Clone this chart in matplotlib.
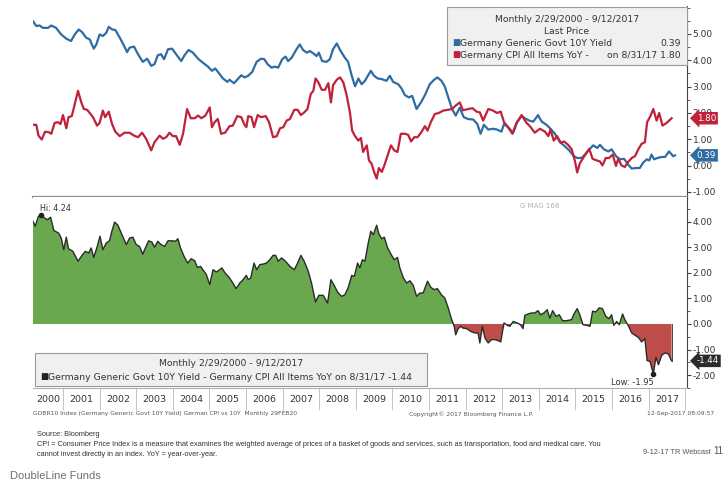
import numpy as np
import matplotlib
matplotlib.use("Agg")
from matplotlib import pyplot as plt
from matplotlib import transforms
from matplotlib.patches import Rectangle

# Germany Generic Govt 10Y Yield (decimal year, %)
yld_t = [2000.18, 2000.27, 2000.36, 2000.45, 2000.59, 2000.68, 2000.81, 2000.95,
         2001.09, 2001.22, 2001.32, 2001.43, 2001.52, 2001.63, 2001.73, 2001.84, 2001.91,
         2002.00, 2002.09, 2002.18, 2002.25, 2002.34, 2002.43, 2002.55, 2002.66, 2002.75, 2002.82, 2002.94,
         2003.05, 2003.18, 2003.30, 2003.41, 2003.50, 2003.59, 2003.68, 2003.76, 2003.87, 2003.98,
         2004.09, 2004.23, 2004.32, 2004.43, 2004.55, 2004.69, 2004.82, 2004.96,
         2005.07, 2005.16, 2005.28, 2005.37, 2005.49, 2005.55, 2005.67, 2005.76, 2005.87, 2005.96,
         2006.06, 2006.17, 2006.29, 2006.41, 2006.50, 2006.59, 2006.70, 2006.79, 2006.88, 2006.99,
         2007.08, 2007.15, 2007.25, 2007.38, 2007.47, 2007.56, 2007.66, 2007.75, 2007.84, 2007.93, 2007.99,
         2008.08, 2008.20, 2008.29, 2008.38, 2008.48, 2008.57, 2008.70, 2008.79, 2008.89, 2008.98,
         2009.07, 2009.16, 2009.25, 2009.41, 2009.50, 2009.60, 2009.72, 2009.84, 2009.93,
         2010.02, 2010.16, 2010.25, 2010.34, 2010.45, 2010.54, 2010.66, 2010.78, 2010.89,
         2011.02, 2011.14, 2011.23, 2011.34, 2011.43, 2011.54, 2011.63, 2011.73, 2011.84, 2011.95,
         2012.07, 2012.21, 2012.32, 2012.41, 2012.50, 2012.62, 2012.75, 2012.86, 2012.98,
         2013.05, 2013.16, 2013.30, 2013.41, 2013.53, 2013.62, 2013.74, 2013.85, 2013.98,
         2014.08, 2014.21, 2014.32, 2014.44, 2014.58, 2014.71, 2014.83, 2014.96,
         2015.05, 2015.17, 2015.26, 2015.38, 2015.49, 2015.60, 2015.67, 2015.78, 2015.90, 2015.99,
         2016.11, 2016.22, 2016.33, 2016.44, 2016.54, 2016.65, 2016.76, 2016.85, 2016.95,
         2017.02, 2017.08, 2017.15, 2017.24, 2017.36, 2017.45, 2017.56, 2017.67, 2017.72]
yld_v = [5.48, 5.30, 5.32, 5.23, 5.23, 5.32, 5.23, 4.98,
         4.82, 4.73, 4.98, 5.17, 5.07, 4.86, 4.79, 4.44, 4.60,
         4.98, 4.92, 5.04, 5.27, 5.17, 5.15, 4.86, 4.57, 4.31, 4.48, 4.52,
         4.23, 3.94, 4.06, 3.79, 3.85, 4.19, 4.23, 4.04, 4.42, 4.44,
         4.23, 3.97, 4.19, 4.39, 4.29, 4.06, 3.91, 3.76,
         3.60, 3.69, 3.47, 3.31, 3.18, 3.26, 3.13, 3.26, 3.43, 3.35,
         3.41, 3.56, 3.94, 4.06, 4.04, 3.85, 3.72, 3.76, 3.72, 4.04,
         4.14, 3.97, 4.10, 4.42, 4.60, 4.39, 4.29, 4.35, 4.26, 4.16, 4.29,
         3.97, 3.94, 4.04, 4.42, 4.64, 4.39, 4.10, 3.94, 3.41, 3.01,
         3.31, 3.09, 3.22, 3.60, 3.41, 3.31, 3.28, 3.22, 3.41,
         3.18, 3.09, 2.93, 2.68, 2.59, 2.65, 2.15, 2.40, 2.68,
         3.09, 3.26, 3.35, 3.22, 3.01, 2.53, 2.15, 1.90, 2.20, 1.84,
         1.77, 1.75, 1.58, 1.21, 1.55, 1.37, 1.40, 1.37, 1.29,
         1.58, 1.46, 1.25, 1.65, 1.88, 1.80, 1.71, 1.67, 1.92,
         1.67, 1.55, 1.40, 1.21, 0.89, 0.74, 0.58, 0.36,
         0.29, 0.29, 0.42, 0.62, 0.77, 0.67, 0.79, 0.62, 0.54, 0.62,
         0.36, 0.24, 0.26, 0.04, -0.11, -0.09, -0.09, 0.11, 0.24,
         0.20, 0.42, 0.24, 0.29, 0.33, 0.33, 0.54, 0.36, 0.39]

# Germany CPI All Items YoY (decimal year, %)
cpi_t = [2000.18, 2000.27, 2000.33, 2000.42, 2000.51, 2000.61, 2000.68, 2000.77, 2000.86, 2000.93,
         2001.00, 2001.09, 2001.15, 2001.24, 2001.41, 2001.50, 2001.57, 2001.66, 2001.73, 2001.82, 2001.93,
         2002.00, 2002.09, 2002.15, 2002.25, 2002.34, 2002.43, 2002.55, 2002.68, 2002.82, 2002.94,
         2003.05, 2003.16, 2003.27, 2003.41, 2003.50, 2003.64, 2003.73, 2003.82, 2003.91,
         2004.00, 2004.09, 2004.19, 2004.28, 2004.39, 2004.49, 2004.60, 2004.69, 2004.78, 2004.89,
         2005.01, 2005.07, 2005.14, 2005.23, 2005.32, 2005.43, 2005.55, 2005.64, 2005.76, 2005.87, 2005.96,
         2006.01, 2006.06, 2006.15, 2006.22, 2006.32, 2006.41, 2006.54, 2006.63, 2006.74, 2006.84, 2006.93,
         2007.02, 2007.11, 2007.20, 2007.32, 2007.41, 2007.50, 2007.59, 2007.68, 2007.77, 2007.84, 2007.90, 2007.97,
         2008.07, 2008.16, 2008.25, 2008.32, 2008.38, 2008.48, 2008.57, 2008.66, 2008.75, 2008.84, 2008.90, 2008.98,
         2009.07, 2009.14, 2009.20, 2009.30, 2009.36, 2009.43, 2009.50, 2009.57, 2009.63, 2009.71, 2009.78, 2009.87, 2009.96,
         2010.05, 2010.14, 2010.23, 2010.34, 2010.43, 2010.51, 2010.60, 2010.69, 2010.80, 2010.89, 2010.96,
         2011.05, 2011.16, 2011.27, 2011.39, 2011.52, 2011.63, 2011.73, 2011.84, 2011.93,
         2012.07, 2012.19, 2012.30, 2012.39, 2012.48, 2012.62, 2012.75, 2012.86, 2012.96,
         2013.05, 2013.16, 2013.28, 2013.39, 2013.53, 2013.65, 2013.78, 2013.89,
         2014.03, 2014.17, 2014.26, 2014.32, 2014.41, 2014.50, 2014.60, 2014.69, 2014.80, 2014.90, 2014.99,
         2015.05, 2015.12, 2015.23, 2015.38, 2015.47, 2015.58, 2015.67, 2015.74, 2015.83, 2015.92,
         2016.02, 2016.11, 2016.17, 2016.26, 2016.35, 2016.44, 2016.54, 2016.63, 2016.72, 2016.81, 2016.90, 2016.96,
         2017.05, 2017.13, 2017.22, 2017.29, 2017.38, 2017.49, 2017.63]
cpi_v = [1.55, 1.55, 1.14, 0.99, 1.29, 1.27, 1.21, 1.62, 1.65, 1.58,
         1.92, 1.42, 1.84, 1.88, 2.84, 2.40, 2.15, 2.12, 2.00, 1.84, 1.52,
         1.62, 2.09, 1.84, 2.05, 1.58, 1.29, 1.12, 1.25, 1.25, 1.14,
         1.08, 1.25, 1.02, 0.58, 0.89, 1.14, 1.02, 1.08, 1.25,
         1.12, 1.12, 0.79, 1.21, 2.15, 1.80, 1.80, 1.90, 1.80, 1.90,
         2.21, 1.46, 1.65, 1.77, 1.21, 1.25, 1.50, 1.52, 1.88, 1.84, 1.55,
         1.46, 1.88, 1.84, 1.46, 1.92, 1.84, 1.88, 1.65, 1.08, 1.12, 1.42,
         1.46, 1.71, 1.77, 2.12, 2.12, 1.92, 2.02, 2.15, 2.72, 2.84, 3.31, 3.18,
         2.88, 2.88, 3.13, 2.40, 3.06, 3.26, 3.35, 3.16, 2.68, 2.02, 1.33, 1.12,
         0.95, 1.05, 0.52, 0.77, 0.20, 0.08, -0.24, -0.49, -0.09, -0.24, 0.01, 0.39, 0.77,
         0.58, 0.52, 1.21, 1.21, 1.17, 0.92, 1.08, 1.08, 1.29, 1.50, 1.33,
         1.65, 1.96, 2.00, 2.09, 2.12, 2.15, 2.28, 2.40, 2.10,
         2.15, 2.18, 2.05, 2.02, 1.71, 2.15, 2.09, 2.00, 2.05,
         1.65, 1.46, 1.21, 1.62, 1.92, 1.65, 1.46, 1.25,
         1.40, 1.29, 1.12, 1.37, 0.95, 1.12, 0.87, 0.92, 0.79, 0.62, 0.16,
         -0.26, 0.08, 0.33, 0.64, 0.26, 0.20, 0.16, 0.01, 0.29, 0.29,
         0.42, -0.01, 0.26, 0.01, -0.05, 0.14, 0.29, 0.36, 0.62, 0.83, 0.89, 1.65,
         1.88, 2.15, 1.71, 2.00, 1.52, 1.62, 1.80]

# Yield minus CPI spread (decimal year, %)
spr_t = [2000.18, 2000.24, 2000.33, 2000.40, 2000.50, 2000.57, 2000.66, 2000.75, 2000.88, 2000.95,
         2001.02, 2001.09, 2001.15, 2001.27, 2001.41, 2001.52, 2001.61, 2001.70, 2001.77, 2001.84, 2001.93,
         2002.01, 2002.09, 2002.18, 2002.27, 2002.34, 2002.41, 2002.50, 2002.61, 2002.73, 2002.82, 2002.91,
         2003.00, 2003.09, 2003.18, 2003.25, 2003.34, 2003.43, 2003.50, 2003.59, 2003.68, 2003.78, 2003.87, 2003.98,
         2004.07, 2004.14, 2004.21, 2004.32, 2004.41, 2004.50, 2004.60, 2004.67, 2004.76, 2004.82, 2004.91,
         2005.01, 2005.10, 2005.19, 2005.28, 2005.34, 2005.43, 2005.55, 2005.64, 2005.73, 2005.83, 2005.92,
         2006.01, 2006.06, 2006.13, 2006.22, 2006.29, 2006.38, 2006.47, 2006.56, 2006.65, 2006.74, 2006.81, 2006.88, 2006.97,
         2007.08, 2007.20, 2007.32, 2007.41, 2007.50, 2007.59, 2007.70, 2007.79, 2007.90, 2007.99,
         2008.11, 2008.23, 2008.32, 2008.41, 2008.50, 2008.61, 2008.70, 2008.79, 2008.89, 2008.96,
         2009.05, 2009.11, 2009.18, 2009.25, 2009.34, 2009.41, 2009.48, 2009.57, 2009.63, 2009.71, 2009.78, 2009.87, 2009.96,
         2010.05, 2010.14, 2010.20, 2010.30, 2010.39, 2010.48, 2010.57, 2010.66, 2010.75, 2010.84, 2010.96,
         2011.05, 2011.14, 2011.23, 2011.34, 2011.43, 2011.52, 2011.62, 2011.69, 2011.73, 2011.80, 2011.87, 2011.93,
         2012.03, 2012.14, 2012.25, 2012.34, 2012.39, 2012.46, 2012.53, 2012.62, 2012.71, 2012.80, 2012.89, 2012.96,
         2013.05, 2013.14, 2013.21, 2013.30, 2013.41, 2013.50, 2013.57, 2013.62, 2013.71, 2013.80, 2013.89, 2013.98,
         2014.05, 2014.14, 2014.23, 2014.30, 2014.38, 2014.47, 2014.56, 2014.65, 2014.76, 2014.90, 2014.96,
         2015.05, 2015.12, 2015.21, 2015.31, 2015.40, 2015.47, 2015.56, 2015.65, 2015.74, 2015.83, 2015.92, 2015.99,
         2016.05, 2016.13, 2016.20, 2016.29, 2016.35, 2016.44, 2016.54, 2016.63, 2016.72, 2016.81, 2016.90, 2016.96,
         2017.04, 2017.13, 2017.20, 2017.27, 2017.36, 2017.45, 2017.54, 2017.63]
spr_v = [4.01, 3.82, 4.21, 4.24, 4.14, 4.07, 4.17, 3.65, 3.55, 3.36,
         2.90, 3.39, 2.94, 2.84, 2.45, 2.68, 2.84, 2.77, 2.97, 2.60, 3.00,
         3.43, 2.90, 3.16, 3.25, 3.65, 3.98, 3.86, 3.49, 3.10, 3.36, 3.39,
         3.10, 3.03, 2.73, 2.97, 3.25, 3.20, 3.00, 3.23, 3.10, 3.03, 3.25, 3.25,
         3.23, 3.33, 2.97, 2.60, 2.38, 2.55, 2.47, 2.21, 2.25, 2.12, 1.95,
         1.54, 2.12, 2.03, 2.12, 2.19, 1.99, 1.80, 1.60, 1.38, 1.60, 1.73,
         1.90, 1.73, 1.80, 2.38, 2.12, 2.32, 2.34, 2.38, 2.51, 2.68, 2.68, 2.45, 2.58,
         2.45, 2.25, 2.12, 2.38, 2.68, 2.45, 2.06, 1.60, 0.86, 1.12,
         1.12, 0.82, 1.73, 1.51, 1.25, 1.08, 1.14, 1.41, 1.90, 1.86,
         2.38, 2.19, 2.51, 2.45, 3.16, 3.62, 3.49, 3.86, 3.52, 3.33, 3.39, 2.97, 2.73,
         2.51, 2.60, 2.21, 1.80, 1.60, 1.69, 1.51, 1.08, 1.21, 1.21, 1.67,
         1.43, 1.34, 1.38, 1.14, 1.02, 0.65, 0.17, -0.09, -0.42, -0.18, -0.09, -0.16,
         -0.18, -0.29, -0.35, -0.35, -0.74, -0.09, -0.55, -0.74, -0.61, -0.61, -0.65, -0.70,
         0.04, -0.05, -0.09, 0.10, 0.04, -0.03, -0.18, 0.34, 0.39, 0.43, 0.43, 0.52,
         0.36, 0.43, 0.56, 0.23, 0.52, 0.30, 0.36, 0.13, 0.13, 0.17, 0.39,
         0.60, 0.36, -0.03, -0.05, -0.09, 0.50, 0.47, 0.63, 0.60, 0.30, 0.21, 0.36,
         -0.05, 0.10, -0.03, 0.39, 0.17, -0.05, -0.35, -0.44, -0.52, -0.70, -0.57, -1.43,
         -1.46, -1.95, -1.30, -1.59, -1.22, -1.13, -1.17, -1.44]

years = list(range(2000, 2018))
hi_pt = (2000.40, 4.24)
lo_pt = (2017.13, -1.95)

BLUE = '#2e6ca3'
RED = '#c0213a'
GREEN = '#6aa84f'
FILLRED = '#bf4d4a'
AXC = '#444444'
TXT = '#333333'

plt.rcParams['font.family'] = ['DejaVu Sans']

W, H = 728, 492
fig = plt.figure(figsize=(W / 100, H / 100), dpi=100)
fig.patch.set_facecolor('white')


def fx(px):
    return px / W


def fy(py):
    return 1 - py / H


XL = (2000.18, 2018.05)
ax1 = fig.add_axes([fx(33), fy(197), fx(687) - fx(33), fy(6) - fy(197)])
ax2 = fig.add_axes([fx(33), fy(388), fx(687) - fx(33), fy(197) - fy(388)])

# ---- top panel: yield vs CPI
ax1.plot(yld_t, yld_v, color=BLUE, lw=1.6, solid_joinstyle='round')
ax1.plot(cpi_t, cpi_v, color=RED, lw=1.6, solid_joinstyle='round')
ax1.set_xlim(*XL)
ax1.set_ylim(-1.19, 6.06)
ax1.set_yticks([-1, 0, 1, 2, 3, 4, 5])
ax1.set_yticks(np.arange(-1, 6.01, 0.5), minor=True)
ax1.set_xticks([])

# ---- bottom panel: spread
sv = np.array(spr_v)
ax2.fill_between(spr_t, sv, 0, where=sv >= 0, interpolate=True, color=GREEN, lw=0)
ax2.fill_between(spr_t, sv, 0, where=sv <= 0, interpolate=True, color=FILLRED, lw=0)
ax2.plot(spr_t, spr_v, color='#2a2a2a', lw=1.0)
ax2.plot([spr_t[-1], spr_t[-1]], [0, spr_v[-1]], color='#2a2a2a', lw=0.6)
ax2.set_xlim(*XL)
ax2.set_ylim(-2.5, 4.96)
ax2.set_yticks([-2, -1, 0, 1, 2, 3, 4])
ax2.set_yticks(np.arange(-2.5, 4.9, 0.5), minor=True)

for ax in (ax1, ax2):
    ax.set_facecolor('white')
    ax.yaxis.tick_right()
    ax.yaxis.set_major_formatter(matplotlib.ticker.FormatStrFormatter('%.2f'))
    ax.tick_params(axis='y', which='major', direction='out', length=3, width=0.8,
                   color=AXC, labelsize=6.5, labelcolor=TXT, pad=1)
    ax.tick_params(axis='y', which='minor', direction='out', length=2, width=0.6, color=AXC)
    ax.spines['left'].set_visible(False)
    ax.spines['top'].set_visible(False)
    ax.spines['right'].set_color(AXC)
    ax.spines['right'].set_linewidth(0.8)

ax1.spines['bottom'].set_color('#8c8c8c')
ax1.spines['bottom'].set_linewidth(1.6)
ax2.spines['bottom'].set_color('#b0b0b0')
ax2.spines['bottom'].set_linewidth(0.8)

# year boxes along bottom axis
ax2.set_xticks(years[1:] + [2018])
ax2.set_xticklabels([])
lab_pos = [(XL[0] + 2001) / 2] + [y + 0.5 for y in years[1:]]
ax2.set_xticks(lab_pos, minor=True)
ax2.set_xticklabels([str(y) for y in years], minor=True)
ax2.tick_params(axis='x', which='major', direction='out', length=16, width=0.7, color='#c4c4c4')
ax2.tick_params(axis='x', which='minor', length=0, pad=5, labelsize=6.8, labelcolor=TXT)

# hi / low markers
ax2.plot(*hi_pt, 'o', color='#222222', ms=3)
ax2.annotate('Hi: 4.24', hi_pt, xytext=(-1, 2), textcoords='offset points',
             fontsize=5.8, color=TXT, ha='left', va='bottom')
ax2.plot(*lo_pt, 'o', color='#222222', ms=3)
ax2.annotate('Low: -1.95', lo_pt, xytext=(0, -3), textcoords='offset points',
             fontsize=6, color=TXT, ha='right', va='top')
ax2.text(0.775, 0.955, 'G MAG 168', transform=ax2.transAxes, fontsize=5,
         color='#b0b0b0', ha='center', va='center')


# right-hand value badges (drawn over the axis labels, as in the terminal chart)
def badge(ax, val, fc):
    tr = transforms.blended_transform_factory(ax.transAxes, ax.transData)
    ax.annotate('%.2f' % val, xy=(1, val), xycoords=tr, xytext=(7, 0),
                textcoords='offset points', ha='left', va='center', fontsize=6.3,
                color='white', annotation_clip=False, zorder=10,
                bbox=dict(boxstyle='larrow,pad=0.2', fc=fc, ec='none'))


badge(ax1, 1.80, RED)
badge(ax1, 0.39, BLUE)
badge(ax2, -1.44, '#2b2b2b')

# ---- legend boxes
LEGFS = 6.7
fig.patches.append(Rectangle((fx(447), fy(65)), fx(687) - fx(447), fy(7) - fy(65),
                             transform=fig.transFigure, fc='#f0f0f0', ec='#9a9a9a', lw=0.8, zorder=5))
fig.text(fx(567), fy(19), 'Monthly 2/29/2000 - 9/12/2017', ha='center', va='center',
         fontsize=LEGFS, color=TXT, zorder=6)
fig.text(fx(567), fy(31), 'Last Price', ha='center', va='center', fontsize=LEGFS, color=TXT, zorder=6)
fig.text(fx(452), fy(43), '\u25A0', ha='left', va='center', fontsize=LEGFS - 0.5, color=BLUE, zorder=6)
fig.text(fx(460), fy(43), 'Germany Generic Govt 10Y Yield', ha='left', va='center',
         fontsize=LEGFS, color=TXT, zorder=6)
fig.text(fx(681), fy(43), '0.39', ha='right', va='center', fontsize=LEGFS, color=TXT, zorder=6)
fig.text(fx(452), fy(55), '\u25A0', ha='left', va='center', fontsize=LEGFS - 0.5, color=RED, zorder=6)
fig.text(fx(460), fy(55), 'Germany CPI All Items YoY -', ha='left', va='center',
         fontsize=LEGFS, color=TXT, zorder=6)
fig.text(fx(681), fy(55), 'on 8/31/17 1.80', ha='right', va='center', fontsize=LEGFS, color=TXT, zorder=6)

fig.patches.append(Rectangle((fx(35), fy(386)), fx(427) - fx(35), fy(353) - fy(386),
                             transform=fig.transFigure, fc='#f0f0f0', ec='#9a9a9a', lw=0.8, zorder=5))
fig.text(fx(231), fy(364), 'Monthly 2/29/2000 - 9/12/2017', ha='center', va='center',
         fontsize=LEGFS, color=TXT, zorder=6)
fig.text(fx(40), fy(377), '\u25A0', ha='left', va='center', fontsize=LEGFS - 0.5, color='#222222', zorder=6)
fig.text(fx(48), fy(377), 'Germany Generic Govt 10Y Yield - Germany CPI All Items YoY on 8/31/17 -1.44',
         ha='left', va='center', fontsize=LEGFS, color=TXT, zorder=6)

# ---- Bloomberg footer line
fig.text(fx(33), fy(414), 'GDBR10 Index (Germany Generic Govt 10Y Yield) German CPI vs 10Y  Monthly 29FEB20',
         ha='left', va='center', fontsize=4.3, color='#555555')
fig.text(fx(471), fy(414), 'Copyright\u00A9 2017 Bloomberg Finance L.P.', ha='center', va='center',
         fontsize=4.3, color='#555555')
fig.text(fx(714), fy(414), '12-Sep-2017 08:09:57', ha='right', va='center', fontsize=4.3, color='#555555')

# ---- source notes
NOTE = dict(ha='left', va='center', fontsize=5.3, color='#333333', family='Liberation Sans')
fig.text(fx(37), fy(434), 'Source: Bloomberg', **NOTE)
fig.text(fx(37), fy(444), 'CPI = Consumer Price Index is a measure that examines the weighted average of prices '
         'of a basket of goods and services, such as transportation, food and medical care. You', **NOTE)
fig.text(fx(37), fy(454), 'cannot invest directly in an index. YoY = year-over-year.', **NOTE)
fig.text(fx(711), fy(452), '9-12-17 TR Webcast', ha='right', va='center', fontsize=5.3,
         color='#555555', family='Liberation Sans')
fig.text(fx(713), fy(451), '11', ha='left', va='center', fontsize=7, color='#555555', family='Liberation Sans')
fig.text(fx(10), fy(476), 'DoubleLine Funds', ha='left', va='center', fontsize=8,
         color='#6f6f6f', family='Liberation Sans')

fig.savefig('out.png', dpi=100, facecolor='white')
